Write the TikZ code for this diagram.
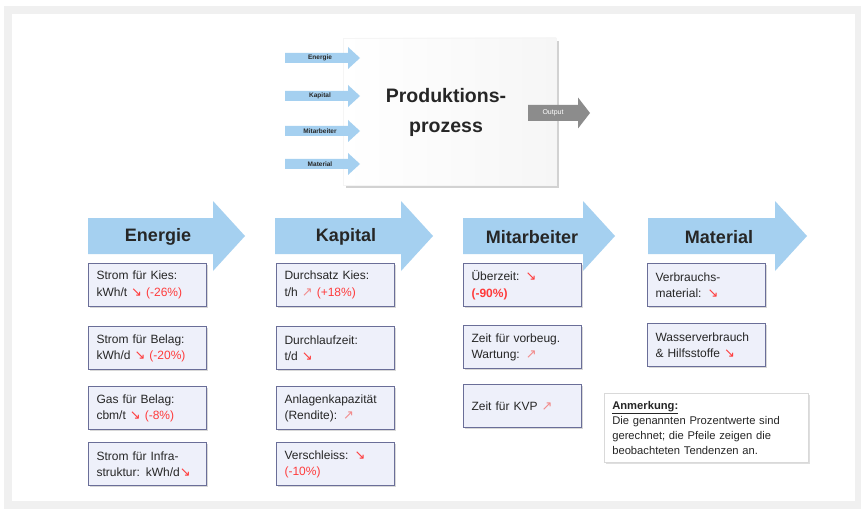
\documentclass[tikz,border=0pt]{standalone}
\usepackage{fontspec}
\setmainfont{Liberation Sans}
\newfontfamily\symb{DejaVu Sans}
\usetikzlibrary{positioning,shadows}

\definecolor{pfeilblau}{HTML}{A5D0F0}
\definecolor{pfeilgrau}{HTML}{8C8C8C}
\definecolor{boxfill}{HTML}{EEF0FA}
\definecolor{boxrand}{HTML}{6A6E98}
\definecolor{rot}{HTML}{FF3B3B}
\definecolor{rosa}{HTML}{F28A8A}
\definecolor{schrift}{HTML}{262626}

% Trendpfeile
\newcommand{\runter}{\textcolor{rot}{\symb\fontsize{13}{13}\selectfont ↘}}
\newcommand{\rauf}{\textcolor{rosa}{\symb\fontsize{13}{13}\selectfont ↗}}

% [farbe] x y laenge halbe-koerperhoehe halbe-kopfhoehe kopflaenge
\newcommand{\blockpfeil}[7][pfeilblau]{%
  \fill[#1] ({#2},{#3-#5}) -- ({#2+#4-#7},{#3-#5}) -- ({#2+#4-#7},{#3-#6})
    -- ({#2+#4},{#3}) -- ({#2+#4-#7},{#3+#6}) -- ({#2+#4-#7},{#3+#5})
    -- ({#2},{#3+#5}) -- cycle;}

\begin{document}
\begin{tikzpicture}[x=1pt,y=-1pt]

		\tikzstyle{kennzahl}=[rectangle,anchor=north west,
			fill=boxfill,draw=boxrand,line width=1.1pt,
			minimum width=118pt,minimum height=43pt,text width=102pt,
			inner xsep=8pt,align=left,text=schrift,
			font=\fontsize{12}{16.5}\selectfont,
			drop shadow={shadow xshift=1.5pt,shadow yshift=-1.5pt,opacity=.3,fill=gray}]
		\tikzstyle{titel}=[font=\bfseries\fontsize{18}{20}\selectfont,text=schrift]
		\tikzstyle{klein}=[font=\bfseries\fontsize{6.5}{7}\selectfont,text=schrift]

		\useasboundingbox (0,0) rectangle (861,513);
		\fill[white] (0,0) rectangle (861,513);
		\draw[gray!12,line width=8pt] (8,10) rectangle (859,505);

		% Produktionsprozess
		\node[rectangle,minimum width=213pt,minimum height=147pt,draw=gray!8,
			left color=white,right color=gray!7,
			drop shadow={shadow xshift=3pt,shadow yshift=-3pt,opacity=.35,fill=gray}]
			(prozess) at (449.5,111.5) {};
		\node[align=center,font=\bfseries\fontsize{19.5}{30}\selectfont,text=schrift]
			(prozesstitel) at (446,112) {Produktions-\\prozess};

		\blockpfeil{285}{58}{75}{5}{11}{12}
		\blockpfeil{285}{96}{75}{5}{11}{12}
		\blockpfeil{285}{131}{75}{5}{11}{12}
		\blockpfeil{285}{164}{75}{5}{11}{12}
		\node[klein] (inEnergie) at (320,58) {Energie};
		\node[klein] (inKapital) at (320,96) {Kapital};
		\node[klein] (inMitarbeiter) at (320,131) {Mitarbeiter};
		\node[klein] (inMaterial) at (320,164) {Material};

		\blockpfeil[pfeilgrau]{528}{113}{62}{8}{15.5}{12}
		\node[font=\fontsize{7}{8}\selectfont,text=white] (output) at (553,113) {Output};

		% Kategorien
		\blockpfeil{88}{236}{157}{18}{35}{32}
		\blockpfeil{275}{236}{158}{18}{35}{32}
		\blockpfeil{463}{236}{152}{18}{35}{32}
		\blockpfeil{648}{236}{159}{18}{35}{32}
		\node[titel] (energie) at (158,237) {Energie};
		\node[titel] (kapital) at (346,237) {Kapital};
		\node[titel] (mitarbeiter) at (532,237) {Mitarbeiter};
		\node[titel] (material) at (719,237) {Material};

		% Energie
		\node[kennzahl] (e1) at (88,263) {Strom für Kies:\\kWh/t \runter\ \textcolor{rot}{(-26\%)}};
		\node[kennzahl,below=19pt of e1.south west,anchor=north west] (e2) {Strom für Belag:\\kWh/d \runter\ \textcolor{rot}{(-20\%)}};
		\node[kennzahl,below=16pt of e2.south west,anchor=north west] (e3) {Gas für Belag:\\cbm/t \runter\ \textcolor{rot}{(-8\%)}};
		\node[kennzahl,below=12pt of e3.south west,anchor=north west] (e4) {Strom für Infra-\\struktur: kWh/d\runter};

		% Kapital
		\node[kennzahl] (k1) at (276,263) {Durchsatz Kies:\\t/h \rauf\ \textcolor{rot}{(+18\%)}};
		\node[kennzahl,below=19pt of k1.south west,anchor=north west] (k2) {Durchlaufzeit:\\t/d \runter};
		\node[kennzahl,below=16pt of k2.south west,anchor=north west] (k3) {Anlagenkapazität\\(Rendite): \rauf};
		\node[kennzahl,below=12pt of k3.south west,anchor=north west] (k4) {Verschleiss: \runter\\\textcolor{rot}{(-10\%)}};

		% Mitarbeiter
		\node[kennzahl] (mi1) at (463,263) {Überzeit: \runter\\\textcolor{rot}{\bfseries(-90\%)}};
		\node[kennzahl,below=18pt of mi1.south west,anchor=north west] (mi2) {Zeit für vorbeug.\\Wartung: \rauf};
		\node[kennzahl,below=15pt of mi2.south west,anchor=north west] (mi3) {Zeit für KVP \rauf};

		% Material
		\node[kennzahl] (ma1) at (647,263) {Verbrauchs-\\material: \runter};
		\node[kennzahl,below=16pt of ma1.south west,anchor=north west] (ma2) {Wasserverbrauch\\\& Hilfsstoffe \runter};

		% Anmerkung
		\node[rectangle,anchor=north west,fill=white,draw=gray!30,line width=.6pt,
			minimum width=204pt,minimum height=69pt,text width=188pt,inner xsep=8pt,
			align=left,text=schrift,font=\fontsize{11.2}{15}\selectfont,
			drop shadow={shadow xshift=1.5pt,shadow yshift=-1.5pt,opacity=.25,fill=gray}]
			(notiz) at (604,393) {\underline{\textbf{Anmerkung:}}\\Die genannten Prozentwerte sind\\gerechnet; die Pfeile zeigen die\\beobachteten Tendenzen an.};

	\end{tikzpicture}
\end{document}
